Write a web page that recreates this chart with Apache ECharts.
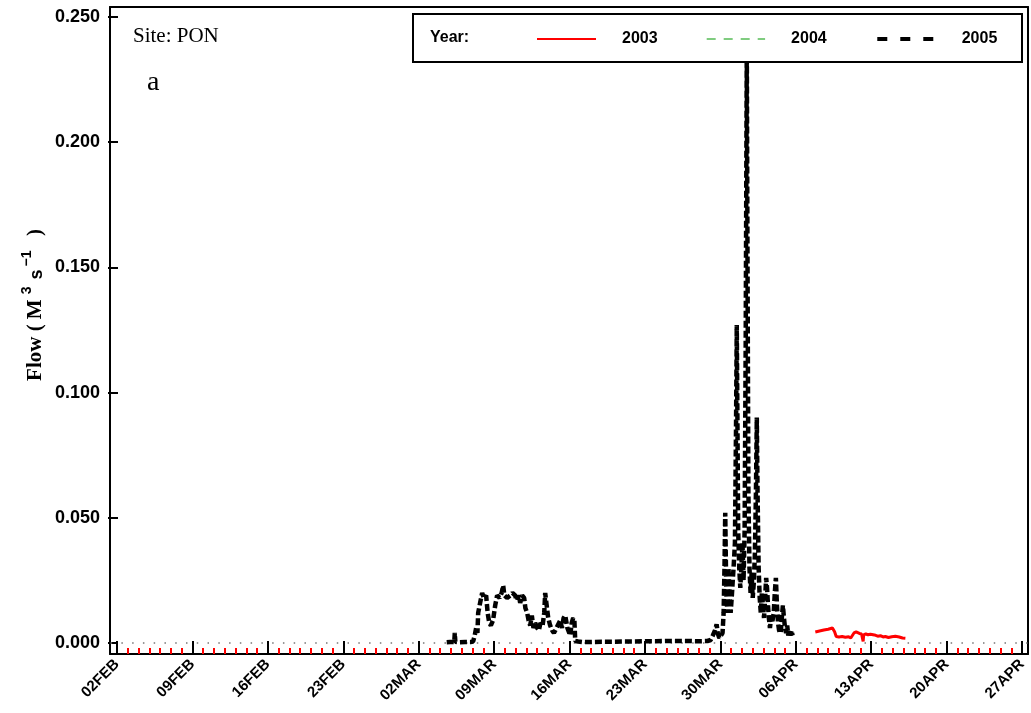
<!DOCTYPE html>
<html>
<head>
<meta charset="utf-8">
<script src="https://cdn.jsdelivr.net/npm/echarts@6/dist/echarts.min.js"></script>
<style>html,body{margin:0;padding:0;background:#fff}#c{width:1031px;height:713px}</style>
</head>
<body>
<div id="c"></div>
<script>
// x values: days since 02FEB 00:00
const xTickDays = [0, 7, 14, 21, 28, 35, 42, 49, 56, 63, 70, 77, 84];
const xTickLabels = ['02FEB','09FEB','16FEB','23FEB','02MAR','09MAR','16MAR','23MAR','30MAR','06APR','13APR','20APR','27APR'];
const yTicks = [0, 0.05, 0.10, 0.15, 0.20, 0.25];
const seriesNames = ['2003', '2004', '2005'];

const t2003 = [64.81,65.2,65.6,66.0,66.4,66.6,66.75,67.0,67.3,67.6,67.9,68.1,68.25,68.4,68.6,68.75,68.9,69.1,69.2,69.25,69.3,69.5,69.7,69.92,70.1,70.3,70.6,70.85,71.1,71.31,71.6,71.9,72.24,72.6,72.9,73.17];
const flow2003 = [0.0044,0.0048,0.0052,0.0055,0.0060,0.0045,0.0026,0.0024,0.0026,0.0023,0.0025,0.0020,0.0030,0.0040,0.0044,0.0040,0.0038,0.0036,0.0034,0.0006,0.0032,0.0036,0.0033,0.0035,0.0030,0.0032,0.0027,0.0029,0.0024,0.0026,0.0022,0.0025,0.0027,0.0024,0.0020,0.0019];

const t2004 = [];
const flow2004 = [];

const t2005 = [30.6,30.9,31.3,31.35,31.4,31.8,32.3,32.8,33.05,33.2,33.33,33.45,33.52,33.7,33.89,34.05,34.26,34.4,34.55,34.7,34.9,35.1,35.28,35.5,35.7,35.84,35.95,36.2,36.5,36.7,36.95,37.1,37.3,37.42,37.6,37.79,37.9,38.07,38.2,38.35,38.5,38.65,38.81,39.0,39.15,39.3,39.5,39.65,39.74,39.85,40.02,40.2,40.39,40.55,40.67,40.9,41.13,41.3,41.45,41.6,41.8,42.06,42.2,42.34,42.45,42.53,42.8,
  43.2,44,45,46,47,48,49,50,51,52,53,54,54.8,55.1,55.3,55.5,55.65,55.75,55.9,56.05,
  56.1,56.2,56.3,56.38,56.45,56.5,56.55,56.65,56.75,56.85,56.95,57.05,57.15,57.25,57.35,57.45,57.52,57.58,57.65,57.75,57.85,57.95,58.05,58.15,58.25,58.35,58.45,58.52,58.6,58.7,58.8,58.9,59.0,59.1,59.2,59.3,59.38,59.45,59.55,59.65,59.75,59.85,59.95,60.05,60.15,60.25,60.33,60.42,60.5,60.6,60.7,60.8,60.95,61.05,61.15,61.25,61.35,61.45,61.6,61.7,61.8,61.9,62.0,62.1,62.2,62.3,62.4,62.5,62.6,62.7];
const flow2005 = [0.0003,0.0004,0.0004,0.004,0.0005,0.0003,0.0004,0.0004,0.0006,0.003,0.006,0.004,0.012,0.016,0.020,0.018,0.019,0.012,0.008,0.007,0.009,0.015,0.019,0.018,0.020,0.023,0.019,0.018,0.019,0.020,0.019,0.017,0.019,0.016,0.019,0.018,0.014,0.012,0.009,0.007,0.011,0.006,0.008,0.006,0.005,0.008,0.007,0.012,0.020,0.016,0.010,0.007,0.005,0.004,0.005,0.007,0.009,0.006,0.010,0.011,0.006,0.003,0.008,0.010,0.009,0.0008,0.0006,
  0.0004,0.0004,0.0005,0.0005,0.0006,0.0006,0.0007,0.0007,0.0008,0.0008,0.0008,0.0007,0.0008,0.0012,0.003,0.005,0.0075,0.004,0.002,0.003,
  0.003,0.004,0.012,0.030,0.052,0.035,0.020,0.012,0.030,0.020,0.012,0.018,0.025,0.032,0.040,0.085,0.127,0.090,0.045,0.030,0.022,0.030,0.040,0.025,0.045,0.120,0.240,0.150,0.060,0.030,0.020,0.028,0.018,0.024,0.035,0.060,0.090,0.060,0.030,0.018,0.012,0.020,0.015,0.010,0.018,0.026,0.022,0.015,0.010,0.006,0.010,0.008,0.012,0.020,0.026,0.015,0.008,0.005,0.004,0.010,0.015,0.010,0.006,0.004,0.007,0.003,0.005,0.003,0.005,0.003];

const pair = (t, f) => t.map((x, i) => [x, f[i]]);
const dailyTicks = [];
for (let d = 1; d <= 84; d++) if (d % 7 !== 0) dailyTicks.push(d);

const SANS = '"Liberation Sans", Arial, sans-serif';
const SERIF = '"Liberation Serif", "Times New Roman", serif';
const X_MIN = -0.65, X_MAX = 84.55, Y_MIN = -0.0044, Y_MAX = 0.254;

const chart = echarts.init(document.getElementById('c'), null, {renderer: 'canvas'});
chart.setOption({
  animation: false,
  backgroundColor: '#fff',
  grid: {left: 110, right: 3, top: 7, bottom: 59, containLabel: false},
  xAxis: [
    {type: 'value', min: X_MIN, max: X_MAX, position: 'bottom',
     axisLine: {show: true, onZero: false, lineStyle: {color: '#000', width: 2}},
     axisTick: {show: true, inside: true, length: 13, customValues: xTickDays, lineStyle: {color: '#000', width: 2}},
     axisLabel: {show: true, customValues: xTickDays, rotate: 45, margin: 8, color: '#000',
       fontFamily: SANS, fontWeight: 'bold', fontSize: 15,
       formatter: v => xTickLabels[xTickDays.indexOf(Math.round(v))] || ''},
     splitLine: {show: false}},
    {type: 'value', min: X_MIN, max: X_MAX, position: 'bottom',
     axisLine: {show: false, onZero: false},
     axisTick: {show: true, inside: true, length: 6, customValues: dailyTicks, lineStyle: {color: '#ff0000', width: 2}},
     axisLabel: {show: false}, splitLine: {show: false}},
    {type: 'value', min: X_MIN, max: X_MAX, position: 'top',
     axisLine: {show: true, onZero: false, lineStyle: {color: '#000', width: 2}},
     axisTick: {show: false}, axisLabel: {show: false}, splitLine: {show: false}}
  ],
  yAxis: [
    {type: 'value', min: Y_MIN, max: Y_MAX, position: 'left',
     axisLine: {show: true, onZero: false, lineStyle: {color: '#000', width: 2}},
     axisTick: {show: true, inside: true, length: 8, customValues: yTicks, lineStyle: {color: '#000', width: 2}},
     axisLabel: {show: true, customValues: yTicks, margin: 10, color: '#000',
       fontFamily: SANS, fontWeight: 'bold', fontSize: 18,
       formatter: v => v.toFixed(3)},
     splitLine: {show: false}},
    {type: 'value', min: Y_MIN, max: Y_MAX, position: 'left',
     axisLine: {show: false, onZero: false},
     axisTick: {show: true, inside: false, length: 2, customValues: yTicks, lineStyle: {color: '#000', width: 2}},
     axisLabel: {show: false}, splitLine: {show: false}},
    {type: 'value', min: Y_MIN, max: Y_MAX, position: 'right',
     axisLine: {show: true, onZero: false, lineStyle: {color: '#000', width: 2}},
     axisTick: {show: false}, axisLabel: {show: false}, splitLine: {show: false}}
  ],
  legend: {
    left: 536, top: 31, padding: 0, itemWidth: 59, itemHeight: 14, itemGap: 48,
    selectedMode: false, z: 20,
    formatter: n => '{g|}' + n,
    textStyle: {color: '#000', fontFamily: SANS, fontWeight: 'bold', fontSize: 16, rich: {g: {width: 21}}},
    data: [
      {name: '2003', itemStyle: {opacity: 0}, lineStyle: {color: '#ff0000', width: 2, type: 'solid'}},
      {name: '2004', itemStyle: {opacity: 0}, lineStyle: {color: '#009900', width: 1, type: [9, 8]}},
      {name: '2005', itemStyle: {opacity: 0}, lineStyle: {color: '#000', width: 4, type: [10, 13]}}
    ]
  },
  graphic: [
    {type: 'rect', z: 15, shape: {x: 413, y: 14, width: 609, height: 48},
     style: {fill: '#fff', stroke: '#000', lineWidth: 2}},
    {type: 'text', z: 16, x: 430, y: 38,
     style: {text: 'Year:', font: 'bold 16px ' + SANS, fill: '#000', textVerticalAlign: 'middle'}},
    {type: 'text', z: 16, x: 133, y: 36,
     style: {text: 'Site: PON', font: '21px ' + SERIF, fill: '#000', textVerticalAlign: 'middle'}},
    {type: 'text', z: 16, x: 147, y: 83,
     style: {text: 'a', font: '28px ' + SERIF, fill: '#000', textVerticalAlign: 'middle'}},
    {type: 'text', z: 16, x: 33, y: 305, rotation: Math.PI / 2,
     style: {
       text: '{f|Flow ( M}{s|3}{g| s}{s|−1}{f|  )}',
       textAlign: 'center', textVerticalAlign: 'middle', fill: '#000',
       rich: {
         f: {fontFamily: SERIF, fontWeight: 'bold', fontSize: 21, verticalAlign: 'bottom', lineHeight: 26, padding: [0, 2, 0, 2]},
         g: {fontFamily: SANS, fontWeight: 'bold', fontSize: 18, verticalAlign: 'bottom', lineHeight: 26},
         s: {fontFamily: SANS, fontWeight: 'bold', fontSize: 14, verticalAlign: 'top', lineHeight: 26, padding: [0, 2, 0, 3]}
       }
     }}
  ],
  series: [
    {name: '2003', type: 'line', xAxisIndex: 0, yAxisIndex: 0, symbol: 'none', data: pair(t2003, flow2003),
     lineStyle: {color: '#ff0000', width: 3, type: 'solid'}, itemStyle: {color: '#ff0000'}, z: 3},
    {name: '2004', type: 'line', xAxisIndex: 0, yAxisIndex: 0, symbol: 'none', data: pair(t2004, flow2004),
     lineStyle: {color: '#009900', width: 1, type: [9, 8]}, itemStyle: {color: '#009900'}},
    {name: '2005', type: 'line', xAxisIndex: 0, yAxisIndex: 0, symbol: 'none', data: pair(t2005, flow2005),
     lineStyle: {color: '#000', width: 4.5, type: [7, 3]}, itemStyle: {color: '#000'}, z: 4,
     markLine: {silent: true, symbol: 'none', label: {show: false}, z: 1,
       lineStyle: {color: '#777', width: 1.5, type: [1.5, 9.27], dashOffset: -0.6},
       data: [{yAxis: 0}]}}
  ]
});
</script>
</body>
</html>
